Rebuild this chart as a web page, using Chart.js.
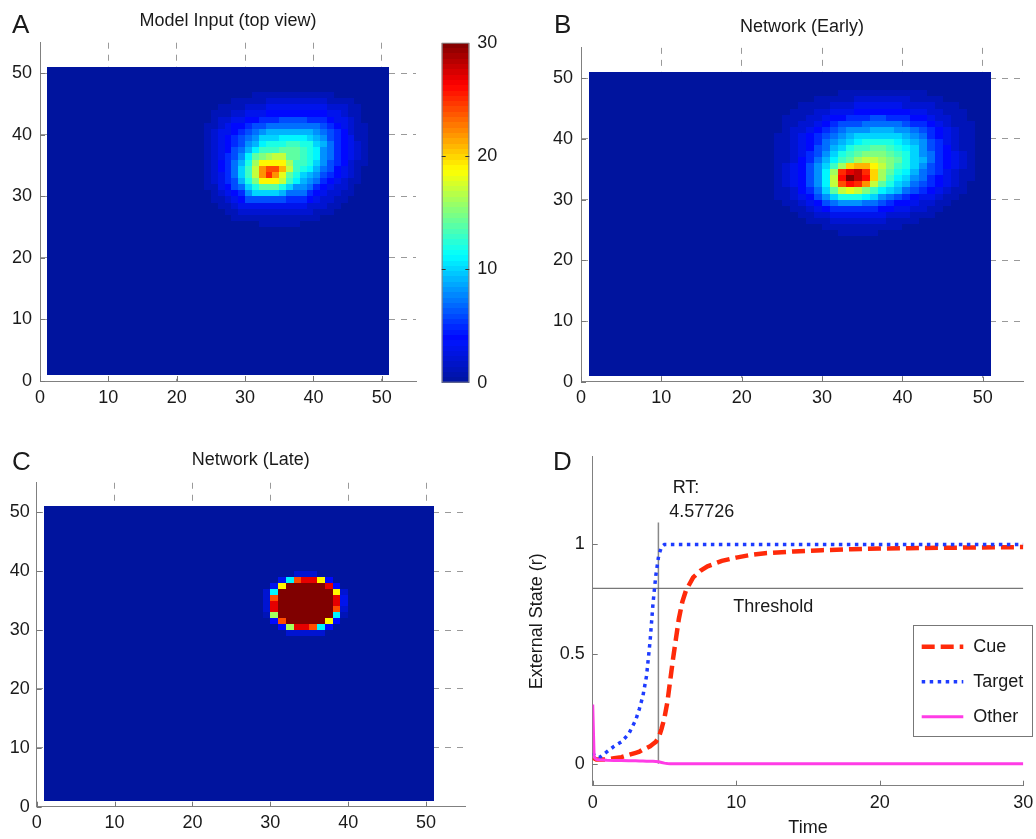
<!DOCTYPE html>
<html>
<head>
<meta charset="utf-8">
<script src="https://cdn.jsdelivr.net/npm/chart.js@4.4.0/dist/chart.umd.min.js"></script>
<style>
  body { margin: 0; background: #fff; }
  #wrap { position: relative; width: 1036px; height: 839px; }
  canvas { position: absolute; }
</style>
</head>
<body>
<div id="wrap">
  <canvas id="panelA" style="left:0;top:0" width="436" height="420"></canvas>
  <canvas id="colorbar" style="left:436px;top:0" width="84" height="420"></canvas>
  <canvas id="panelB" style="left:520px;top:0" width="516" height="420"></canvas>
  <canvas id="panelC" style="left:0;top:420px" width="520" height="419"></canvas>
  <canvas id="panelD" style="left:520px;top:420px" width="516" height="419"></canvas>
</div>
<script>
// ---- heat maps: 50 x 50 cells (cell c spans c..c+1), value 0..30
// only the rows/cols around the spot are listed, everything else is 0
// one char per cell, base 36 (0-9, a=10 ... u=30)
const axisTicks = [0, 10, 20, 30, 40, 50];
const colorTicks = [0, 10, 20, 30];

const inputCol0 = 24, inputTop = 46;
const inputRows = [
  '000000011111111111100000',
  '000011111222222222111100',
  '001111222333333333222110',
  '011122333444444444332110',
  '012233445556666555433210',
  '112344566777777776543211',
  '123345678999999987654211',
  '12345678aaabbbba98654311',
  '12345689bcccddcca9754321',
  '1234679bdddeeedcb8754321',
  '123568befghheedcb8754321',
  '124579cgjjjjgddca8654211',
  '12457adhmoolhdcb97643210',
  '12357adhmpmieca986543210',
  '123569cfjjjhdb9875432110',
  '113467aceeeca88754322100',
  '0123458aaaa9777543221100',
  '011234666666555432211000',
  '001123333333333222110000',
  '000112222222222211100000',
  '000011111111111110000000',
  '000000001111110000000000'
];

const earlyCol0 = 24, earlyTop = 47;
const earlyRows = [
  '00000000111111111110000000',
  '00000111112222222111100000',
  '00011112223333332222111000',
  '00111223334444444332211100',
  '01112234455566555443221100',
  '01122345666777776554321110',
  '01223456788899988765432110',
  '1123456789aaaaaa9875432110',
  '112345789abccccba986532110',
  '11234679acddeedcba86542110',
  '1123568acdefffedca87543210',
  '1124579bdeghhgfeca97543210',
  '123468adgklljhfdca86543210',
  '123468bgprspkgecb976532110',
  '123468bhqusqkgdba875432110',
  '123468bhoqpmheca9765432100',
  '112457aehihfdba97654321100',
  '1123468acccba8765433211000',
  '01123467888776544322110000',
  '00112345555554433221100000',
  '00011223333333222111000000',
  '00001112222222111100000000',
  '00000011111111110000000000',
  '00000000111110000000000000'
];

const lateCol0 = 29, lateTop = 39;
const lateRows = [
  '00002220000',
  '003borrj400',
  '03juuuuur40',
  '2buuuuuuuj2',
  '2ouuuuuuur3',
  '2ruuuuuuur3',
  '2ruuuuuuuo2',
  '1guuuuuuub1',
  '04ouuuuuj40',
  '004grrob400',
  '00022222000'
];

// ---- panel D time courses
const time   = [0, 0.1, 0.25, 0.5, 1, 1.5, 2, 2.5, 3, 3.25, 3.5, 3.75, 4, 4.2, 4.4, 4.6, 4.8, 5, 5.2, 5.4, 5.6, 5.8, 6, 6.25, 6.5, 7, 7.5, 8, 9, 10, 11, 12, 14, 16, 18, 20, 22, 25, 28, 30];
const cue    = [0.03, 0.025, 0.02, 0.02, 0.02, 0.025, 0.03, 0.04, 0.05, 0.055, 0.065, 0.072, 0.08, 0.09, 0.1, 0.12, 0.16, 0.21, 0.28, 0.38, 0.48, 0.57, 0.66, 0.74, 0.79, 0.85, 0.88, 0.9, 0.925, 0.94, 0.952, 0.96, 0.968, 0.974, 0.978, 0.981, 0.983, 0.985, 0.987, 0.988];
const target = [0.05, 0.04, 0.03, 0.03, 0.055, 0.08, 0.1, 0.135, 0.2, 0.25, 0.31, 0.4, 0.56, 0.73, 0.86, 0.95, 0.99, 1, 1, 1, 1, 1, 1, 1, 1, 1, 1, 1, 1, 1, 1, 1, 1, 1, 1, 1, 1, 1, 1, 1];
const other  = [0.27, 0.03, 0.02, 0.018, 0.016, 0.015, 0.015, 0.014, 0.014, 0.013, 0.013, 0.012, 0.012, 0.011, 0.01, 0.009, 0.006, 0.003, 0.001, 0, 0, 0, 0, 0, 0, 0, 0, 0, 0, 0, 0, 0, 0, 0, 0, 0, 0, 0, 0, 0];
const timeTicks = [0, 10, 20, 30];
const stateTicks = [0, 0.5, 1];
const rt = 4.57726;
const threshold = 0.8;
const legendNames = ['Cue', 'Target', 'Other'];

const FONT = '"Liberation Sans", Arial, Helvetica, sans-serif';
Chart.defaults.font.family = FONT;
Chart.defaults.font.size = 18;
Chart.defaults.color = '#1a1a1a';
Chart.defaults.animation = false;
Chart.defaults.responsive = false;
Chart.defaults.plugins.legend.display = false;
Chart.defaults.plugins.tooltip.enabled = false;

function jet(v) {
  const t = Math.max(0, Math.min(1, v / 30));
  const f = a => Math.max(0, Math.min(1, 1.5 - Math.abs(4 * t - a)));
  const b = t < 0.125 ? 0.62 + 3.04 * t : f(1);
  return 'rgb(' + Math.round(255 * f(3)) + ',' + Math.round(255 * f(2) + (t < 0.125 ? 20 : 0)) + ',' + Math.round(255 * b) + ')';
}

const fitW = w => s => { s.width = w; s.paddingTop = 0; s.paddingBottom = 0; };
const fitH = h => s => { s.height = h; s.paddingLeft = 0; s.paddingRight = 0; };
const setTicks = list => s => { s.ticks = list.map(v => ({ value: v })); };
const plainLabel = v => String(v);

const heatLayer = (rows, col0, top) => ({
  id: 'heat',
  beforeDatasetsDraw(chart) {
    const { ctx, scales: { x, y } } = chart;
    ctx.save();
    for (let r = 1; r <= 50; r++) {
      for (let c = 1; c <= 50; c++) {
        const row = rows[top - r];
        const ch = row && row[c - col0];
        const v = ch ? parseInt(ch, 36) : 0;
        const x0 = Math.round(x.getPixelForValue(c)), x1 = Math.round(x.getPixelForValue(c + 1));
        const y0 = Math.round(y.getPixelForValue(r + 1)), y1 = Math.round(y.getPixelForValue(r));
        ctx.fillStyle = jet(v);
        ctx.fillRect(x0, y0, x1 - x0, y1 - y0);
      }
    }
    ctx.restore();
  }
});

const colorbarLayer = {
  id: 'cbar',
  beforeDatasetsDraw(chart) {
    const { ctx, chartArea: a, scales: { y } } = chart;
    ctx.save();
    for (let k = 0; k < 64; k++) {
      const y0 = Math.round(y.getPixelForValue((k + 1) * 30 / 64));
      const y1 = Math.round(y.getPixelForValue(k * 30 / 64));
      ctx.fillStyle = jet((k + 0.5) * 30 / 64);
      ctx.fillRect(a.left, y0, a.right - a.left, y1 - y0);
    }
    ctx.strokeStyle = '#888';
    ctx.lineWidth = 1;
    ctx.strokeRect(a.left + 0.5, a.top + 0.5, a.right - a.left - 1, a.bottom - a.top - 1);
    ctx.strokeStyle = '#333';
    [10, 20].forEach(v => {
      const p = Math.round(y.getPixelForValue(v)) + 0.5;
      ctx.beginPath();
      ctx.moveTo(a.left, p); ctx.lineTo(a.left + 4, p);
      ctx.moveTo(a.right - 4, p); ctx.lineTo(a.right, p);
      ctx.stroke();
    });
    ctx.restore();
  }
};

// MATLAB style ticks pointing into the axes
const innerTicks = {
  id: 'innerTicks',
  afterDraw(chart) {
    const { ctx, chartArea: a, scales: { x, y } } = chart;
    ctx.save();
    ctx.strokeStyle = '#777';
    ctx.lineWidth = 1;
    ctx.beginPath();
    x.ticks.forEach(t => {
      const p = Math.round(x.getPixelForValue(t.value)) + 0.5;
      ctx.moveTo(p, a.bottom); ctx.lineTo(p, a.bottom - 5);
    });
    y.ticks.forEach(t => {
      const p = Math.round(y.getPixelForValue(t.value)) + 0.5;
      ctx.moveTo(a.left, p); ctx.lineTo(a.left + 5, p);
    });
    ctx.stroke();
    ctx.restore();
  }
};

const textLayer = items => ({
  id: 'texts',
  afterDraw(chart) {
    const { ctx, chartArea: a } = chart;
    ctx.save();
    ctx.fillStyle = '#1a1a1a';
    ctx.textBaseline = 'alphabetic';
    items.forEach(it => {
      ctx.font = (it.size || 18) + 'px ' + FONT;
      ctx.textAlign = it.center ? 'center' : 'left';
      let x = it.center ? (a.left + a.right) / 2 : it.x;
      let y = it.y;
      if (it.at) {
        x = chart.scales.x.getPixelForValue(it.at[0]) + it.dx;
        y = chart.scales.y.getPixelForValue(it.at[1]) + it.dy;
      }
      ctx.fillText(it.text, x, y);
    });
    ctx.restore();
  }
});

const boxLegend = {
  id: 'boxLegend',
  afterDraw(chart) {
    const ctx = chart.ctx;
    ctx.save();
    ctx.fillStyle = '#fff';
    ctx.fillRect(393.5, 205.5, 119, 111);
    ctx.strokeStyle = '#777';
    ctx.lineWidth = 1;
    ctx.strokeRect(393.5, 205.5, 119, 111);
    legendNames.forEach((name, k) => {
      const ds = chart.data.datasets.find(d => d.label === name);
      const yy = 226.7 + 35 * k;
      ctx.strokeStyle = ds.borderColor;
      ctx.lineWidth = ds.borderWidth;
      ctx.setLineDash(ds.borderDash || []);
      ctx.beginPath();
      ctx.moveTo(401.7, yy);
      ctx.lineTo(443.3, yy);
      ctx.stroke();
      ctx.setLineDash([]);
      ctx.fillStyle = '#1a1a1a';
      ctx.font = '18px ' + FONT;
      ctx.textBaseline = 'middle';
      ctx.fillText(name, 453.3, yy);
    });
    ctx.restore();
  }
};

function mapScales(yWidth, xHeight, yPad) {
  const gridColor = c => (c.tick && c.tick.value === 0) ? 'rgba(0,0,0,0)' : '#9a9a9a';
  const common = {
    type: 'linear', min: 0, max: 55,
    afterBuildTicks: setTicks(axisTicks),
    grid: { color: gridColor, drawTicks: false },
    border: { color: '#808080', dash: [6, 6] }
  };
  return {
    x: Object.assign({}, common, { ticks: { padding: 6, callback: plainLabel }, afterFit: fitH(xHeight) }),
    y: Object.assign({}, common, { ticks: { padding: yPad, callback: plainLabel }, afterFit: fitW(yWidth) })
  };
}

function heatChart(id, pad, yWidth, xHeight, yPad, rows, col0, top, texts) {
  return new Chart(document.getElementById(id), {
    type: 'scatter',
    data: { datasets: [] },
    options: {
      layout: { padding: pad },
      scales: mapScales(yWidth, xHeight, yPad)
    },
    plugins: [heatLayer(rows, col0, top), innerTicks, textLayer(texts)]
  });
}

heatChart('panelA', { left: 0, top: 42.7, right: 20, bottom: 0 }, 40, 39, 8,
  inputRows, inputCol0, inputTop,
  [{ text: 'A', x: 12, y: 33, size: 26 }, { text: 'Model Input (top view)', center: true, y: 26 }]);

new Chart(document.getElementById('colorbar'), {
  type: 'scatter',
  data: { datasets: [] },
  options: {
    layout: { padding: { left: 5.7, top: 42.7, right: 0, bottom: 37.3 } },
    scales: {
      x: { type: 'linear', display: false, min: 0, max: 1 },
      y: {
        type: 'linear', position: 'right', min: 0, max: 30,
        afterBuildTicks: setTicks(colorTicks),
        ticks: { padding: 8, callback: plainLabel },
        grid: { display: false, drawTicks: false },
        border: { display: false },
        afterFit: fitW(50.7)
      }
    }
  },
  plugins: [colorbarLayer]
});

heatChart('panelB', { left: 0, top: 47.85, right: 13, bottom: 0 }, 61, 38.3, 8,
  earlyRows, earlyCol0, earlyTop,
  [{ text: 'B', x: 34, y: 33, size: 26 }, { text: 'Network (Early)', center: true, y: 32 }]);

heatChart('panelC', { left: 0, top: 62.75, right: 55, bottom: 0 }, 36.7, 32.3, 7,
  lateRows, lateCol0, lateTop,
  [{ text: 'C', x: 12, y: 50, size: 26 }, { text: 'Network (Late)', center: true, y: 45 }]);

const pts = ys => time.map((t, i) => ({ x: t, y: ys[i] }));

new Chart(document.getElementById('panelD'), {
  type: 'line',
  data: {
    datasets: [
      { label: 'Other', data: pts(other), borderColor: '#ff3ce6', borderWidth: 3, pointRadius: 0, order: 0 },
      { label: 'Target', data: pts(target), borderColor: '#1e3cff', borderWidth: 3.5, borderDash: [3.5, 4.5], pointRadius: 0, order: 1 },
      { label: 'Cue', data: pts(cue), borderColor: '#ff2a0a', borderWidth: 4.5, borderDash: [13, 6], pointRadius: 0, order: 2 },
      { label: 'Threshold', data: [{ x: 0, y: threshold }, { x: 30, y: threshold }], borderColor: '#555', borderWidth: 1, pointRadius: 0, order: 3 },
      { label: 'RT', data: [{ x: rt, y: 0 }, { x: rt, y: 1.1 }], borderColor: '#888', borderWidth: 1.5, pointRadius: 0, order: 3 }
    ]
  },
  options: {
    layout: { padding: { left: 0, top: 36.7, right: 12.7, bottom: 0 } },
    scales: {
      x: {
        type: 'linear', min: 0, max: 30,
        afterBuildTicks: setTicks(timeTicks),
        ticks: { padding: 7, callback: plainLabel },
        grid: { display: false, drawTicks: false },
        border: { color: '#808080' },
        title: { display: true, text: 'Time', padding: 0 },
        afterFit: fitH(53.3)
      },
      y: {
        type: 'linear', min: -0.1, max: 1.4,
        afterBuildTicks: setTicks(stateTicks),
        ticks: { padding: 8, callback: plainLabel },
        grid: { display: false, drawTicks: false },
        border: { color: '#808080' },
        title: { display: true, text: 'External State (r)', padding: { top: 6, bottom: 0 } },
        afterFit: fitW(72.7)
      }
    }
  },
  plugins: [innerTicks, boxLegend, textLayer([
    { text: 'D', x: 33, y: 50, size: 26 },
    { text: 'RT:', at: [rt, 1.1], dx: 14.3, dy: -29.8 },
    { text: String(rt), at: [rt, 1.1], dx: 10.9, dy: -5.2 },
    { text: 'Threshold', at: [0, threshold], dx: 140.6, dy: 23.4 }
  ])]
});
</script>
</body>
</html>
